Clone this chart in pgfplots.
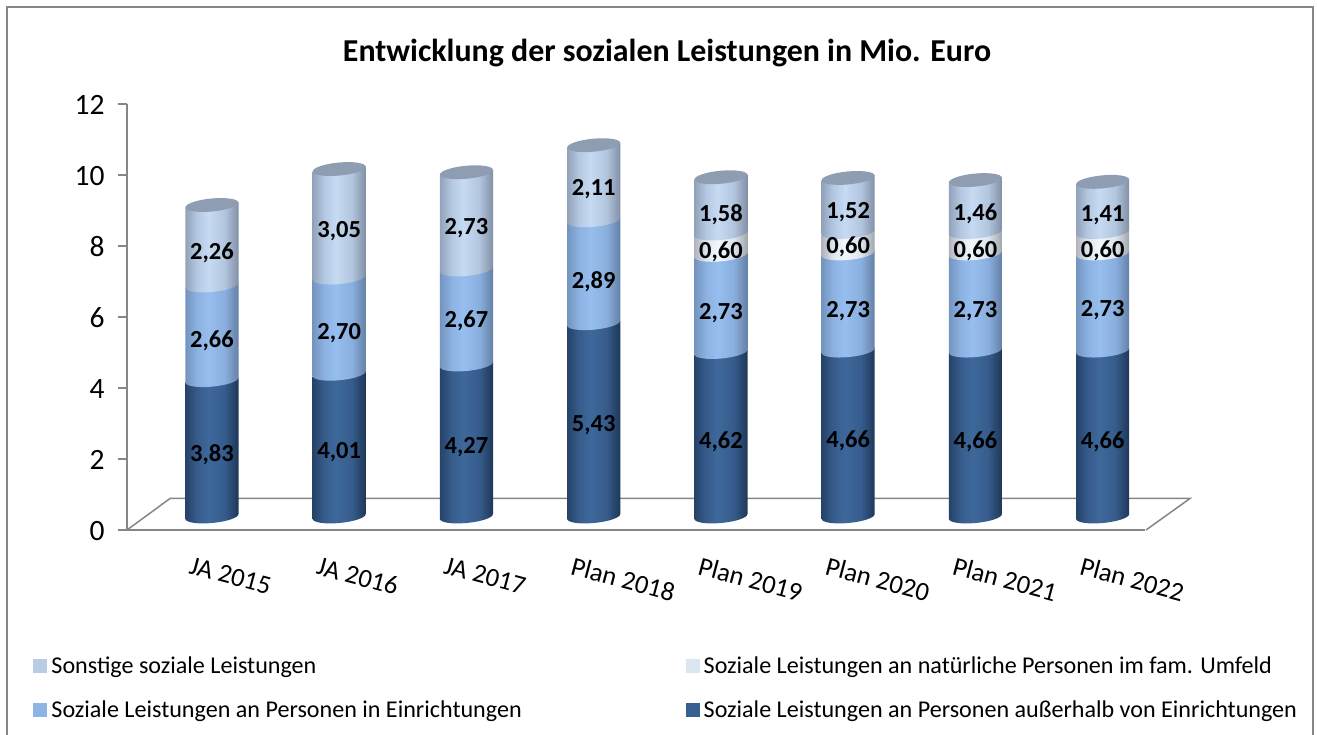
\documentclass[border=0pt]{standalone}
\usepackage{fontspec}
\usepackage{pgfplots}
\usepackage{pgfplotstable}
\pgfplotsset{compat=1.18}
\setmainfont{Carlito}
\definecolor{axgray}{HTML}{868686}
\definecolor{cS}{HTML}{B8CCE4}
\definecolor{cN}{HTML}{DCE6F1}
\definecolor{cE}{HTML}{8DB4E2}
\definecolor{cD}{HTML}{366092}
\definecolor{capc}{HTML}{8E9DB2}
\definecolor{d0}{HTML}{264267}\definecolor{d1}{HTML}{375C8C}\definecolor{d2}{HTML}{3E689B}\definecolor{d3}{HTML}{365C8C}\definecolor{d4}{HTML}{1E3758}
\definecolor{e0}{HTML}{7394BE}\definecolor{e1}{HTML}{8CB2E2}\definecolor{e2}{HTML}{96BEEE}\definecolor{e3}{HTML}{8AAFDE}\definecolor{e4}{HTML}{6480A5}
\definecolor{n0}{HTML}{AFB4BC}\definecolor{n1}{HTML}{DEE6F0}\definecolor{n2}{HTML}{F2F6FC}\definecolor{n3}{HTML}{DCE4EE}\definecolor{n4}{HTML}{A0A5AC}
\definecolor{s0}{HTML}{91A2B9}\definecolor{s1}{HTML}{B4C8E2}\definecolor{s2}{HTML}{C6DAF2}\definecolor{s3}{HTML}{B2C5DE}\definecolor{s4}{HTML}{808FA5}
\pgfdeclarehorizontalshading{cylD}{100bp}{color(0bp)=(d0);color(25bp)=(d0);color(36bp)=(d1);color(47bp)=(d2);color(62bp)=(d3);color(75bp)=(d4);color(100bp)=(d4)}
\pgfdeclarehorizontalshading{cylE}{100bp}{color(0bp)=(e0);color(25bp)=(e0);color(36bp)=(e1);color(47bp)=(e2);color(62bp)=(e3);color(75bp)=(e4);color(100bp)=(e4)}
\pgfdeclarehorizontalshading{cylN}{100bp}{color(0bp)=(n0);color(25bp)=(n0);color(36bp)=(n1);color(47bp)=(n2);color(62bp)=(n3);color(75bp)=(n4);color(100bp)=(n4)}
\pgfdeclarehorizontalshading{cylS}{100bp}{color(0bp)=(s0);color(25bp)=(s0);color(36bp)=(s1);color(47bp)=(s2);color(62bp)=(s3);color(75bp)=(s4);color(100bp)=(s4)}
\pgfdeclareplotmark{nullmark}{}
% one cylinder segment: drawn at each stacked point, reaching down by the segment's own value
\newcommand\cylseg[1]{%
  \pgfmathfloattofixed{\pgfplotspointmeta}\let\h\pgfmathresult
  \pgfmathsetlengthmacro\hh{\h*35.6pt}%
  \ifdim\hh>0.01pt
    \path[draw=none,shade,shading=#1] \pgfextra{\pgfpathellipse{\pgfpoint{0pt}{-\hh}}{\pgfpoint{26.48pt}{2.5pt}}{\pgfpoint{-0.61pt}{6.47pt}}};
    \path[draw=none,shade,shading=#1] (-26.6pt,-\hh-2.6pt) -- (26.6pt,-\hh+2.6pt) -- (26.6pt,2.6pt) -- (-26.6pt,-2.6pt) -- cycle;
  \fi}
\pgfplotsset{
  cyl/.style 2 args={stack plots=y,only marks,scatter,mark=nullmark,forget plot,
    point meta=explicit,
    scatter/@pre marker code/.code={\cylseg{#1}#2},
    scatter/@post marker code/.code={}},
}
\newcommand\cylcap{\path[draw=none,fill=capc] \pgfextra{\pgfpathellipse{\pgfpoint{0pt}{0pt}}{\pgfpoint{26.48pt}{2.5pt}}{\pgfpoint{-0.61pt}{6.47pt}}};}
\pgfplotstableread{
x   dD    dE    dN    dS
0   3.83  2.66  0     2.26
1   4.01  2.70  0     3.05
2   4.27  2.67  0     2.73
3   5.43  2.89  0     2.11
4   4.62  2.73  0.60  1.58
5   4.66  2.73  0.60  1.52
6   4.66  2.73  0.60  1.46
7   4.66  2.73  0.60  1.41
}\datatable
\pgfplotstableread{
x  y     t
0  1.79  3,83
1  1.87  4,01
2  2.01  4,27
3  2.62  5,43
4  2.15  4,62
5  2.18  4,66
6  2.15  4,66
7  2.15  4,66
0  5.00  2,66
1  5.21  2,70
2  5.55  2,67
3  6.64  2,89
4  5.77  2,73
5  5.83  2,73
6  5.83  2,73
7  5.86  2,73
4  7.49  0,60
5  7.63  0,60
6  7.52  0,60
7  7.52  0,60
0  7.46  2,26
1  8.08  3,05
2  8.16  2,73
3  9.26  2,11
4  8.53  1,58
5  8.61  1,52
6  8.55  1,46
7  8.53  1,41
}\labeltable
\begin{document}
\begin{tikzpicture}[x=1pt,y=1pt]
\useasboundingbox (0,0) rectangle (1317,735);
% frame (open at the bottom)
\draw[axgray,line width=2pt] (6.5,0) -- (6.5,727.5) -- (1313,727.5) -- (1313,0);
% floor
\draw[axgray,line width=1.5pt] (127,205) -- (170,236.5) -- (1190,236.5) -- (1146,205);
% value axis and category axis
\begin{axis}[
  at={(127pt,205pt)},anchor=south west,
  scale only axis,width=1018pt,height=426pt,
  xmin=0,xmax=8,ymin=0,ymax=12,
  axis x line=bottom,axis y line=left,
  axis line style={-,axgray,line width=2pt},
  tick style={axgray,line width=1.5pt},
  tick align=outside,
  major tick length=9pt,
  xtick={0.5,1.5,2.5,3.5,4.5,5.5,6.5,7.5},
  xticklabels={JA 2015,JA 2016,JA 2017,Plan 2018,Plan 2019,Plan 2020,Plan 2021,Plan 2022},
  x tick style={draw=none},
  minor xtick={0,1,2,3,4,5,6,7,8},
  minor tick length=9pt,
  minor x tick style={axgray,line width=1.5pt},
  xticklabel style={font=\fontsize{26.5}{26.5}\selectfont,rotate=-15,anchor=north west,xshift=3pt,yshift=-13pt},
  ytick={0,2,4,6,8,10,12},
  /pgf/number format/assume math mode=true,
  yticklabel style={font=\fontsize{29.5}{29.5}\selectfont,xshift=-10pt,yshift=-1pt},
]
\end{axis}
% cylinders
\begin{axis}[
  at={(148.3pt,218.5pt)},anchor=south west,
  scale only axis,width=1018pt,height=427.2pt,
  xmin=-0.5,xmax=7.5,ymin=0,ymax=12,
  hide axis,clip=false,
  legend style={at={(-0.1132,-0.3242)},anchor=north west,draw=none,fill=none,
    font=\fontsize{24.1}{24.1}\selectfont,
    /tikz/every even column/.append style={column sep=161.5pt},
    /tikz/row sep=22pt,
    inner sep=0pt,outer sep=0pt},
  legend columns=2,legend cell align=left,
  legend image code/.code={\fill[draw=none,#1] (0pt,-7pt) rectangle (14pt,7pt);\path (0pt,0pt) (16pt,0pt);},
]
\addplot[cyl={cylD}{}] table[x=x,y=dD,meta=dD] {\datatable};
\addplot[cyl={cylE}{}] table[x=x,y=dE,meta=dE] {\datatable};
\addplot[cyl={cylN}{}] table[x=x,y=dN,meta=dN] {\datatable};
\addplot[cyl={cylS}{\cylcap}] table[x=x,y=dS,meta=dS] {\datatable};
\addlegendimage{fill=cS}\addlegendentry{Sonstige soziale Leistungen}
\addlegendimage{fill=cN}\addlegendentry{Soziale Leistungen an natürliche Personen im fam. Umfeld}
\addlegendimage{fill=cE}\addlegendentry{Soziale Leistungen an Personen in Einrichtungen}
\addlegendimage{fill=cD}\addlegendentry{Soziale Leistungen an Personen außerhalb von Einrichtungen}
\end{axis}
% value labels
\begin{axis}[
  at={(148.3pt,218.5pt)},anchor=south west,
  scale only axis,width=1018pt,height=427.2pt,
  xmin=-0.5,xmax=7.5,ymin=0,ymax=12,
  hide axis,clip=false,
]
\addplot[only marks,mark=none,
  point meta=explicit symbolic,
  nodes near coords,
  nodes near coords align={anchor=center},
  every node near coord/.append style={font=\fontsize{24.5}{24.5}\selectfont\bfseries,text=black,inner sep=0pt,yshift=-2pt},
] table[x=x,y=y,meta=t] {\labeltable};
\end{axis}
% title
\node[font=\fontsize{31.9}{31.9}\selectfont\bfseries,anchor=center] at (667,682) {Entwicklung der sozialen Leistungen in Mio. Euro};
\end{tikzpicture}
\end{document}
